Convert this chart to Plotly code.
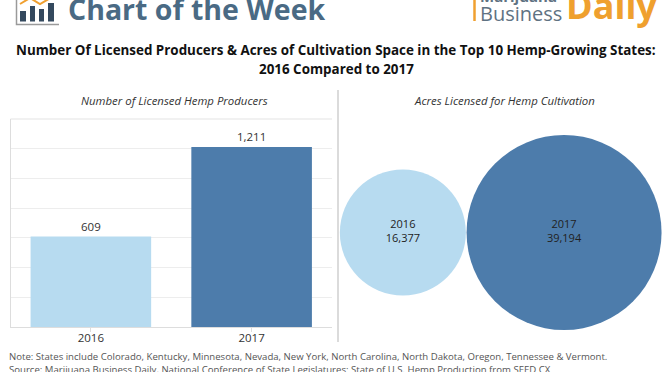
import plotly.graph_objects as go

years = ["2016", "2017"]
producers = [609, 1211]
acres = [16377, 39194]
bar_colors = ["#B7DBF0", "#4D7CAB"]
title_1 = "<b>Number Of Licensed Producers &amp; Acres of Cultivation Space in the Top 10 Hemp-Growing States:</b>"
title_2 = "<b>2016 Compared to 2017</b>"
note = "Note: States include Colorado, Kentucky, Minnesota, Nevada, New York, North Carolina, North Dakota, Oregon, Tennessee &amp; Vermont."
source = "Source: Marijuana Business Daily, National Conference of State Legislatures; State of U.S. Hemp Production from SEED CX"

W, H = 672, 372
px = lambda v: v / W
py = lambda v: 1 - v / H
FONT = "Open Sans"

fig = go.Figure()
fig.add_trace(go.Bar(
    x=years, y=producers, marker=dict(color=bar_colors, line_width=0), width=0.75,
    text=[f"{v:,}" for v in producers], textposition="outside", cliponaxis=False,
    textfont=dict(size=11.5, color="#333333", family=FONT), xaxis="x", yaxis="y"))

max_d = 195
fig.add_trace(go.Scatter(
    x=years, y=[0, 0], mode="markers+text", cliponaxis=False,
    marker=dict(size=acres, sizemode="area", sizeref=2 * max(acres) / max_d**2, color=bar_colors, line_width=0, opacity=1),
    text=[f"{y}<br>{a:,}" for y, a in zip(years, acres)], textposition="middle center",
    textfont=dict(size=11, color="#222222", family=FONT), xaxis="x2", yaxis="y2"))

fig.update_layout(
    width=W, height=H, autosize=False, margin=dict(l=0, r=0, t=0, b=0),
    paper_bgcolor="white", plot_bgcolor="white", showlegend=False,
    font=dict(family=FONT),
    xaxis=dict(domain=[px(10.5), px(332)], type="category", showgrid=False, showline=True, linecolor="#DDDDDD",
               ticks="outside", ticklen=4, tickcolor="#DDDDDD", tickfont=dict(size=11.5, color="#333333", family=FONT), anchor="y",
               ticklabelstandoff=-4, range=[-0.5, 1.5], fixedrange=True),
    yaxis=dict(domain=[py(327), py(119)], range=[0, 1400], dtick=200, showticklabels=False, ticks="",
               gridcolor="#EDEDED", gridwidth=1, showline=True, linecolor="#DDDDDD", zeroline=False, anchor="x"),
    xaxis2=dict(domain=[px(340), px(664)], type="category", range=[-0.39, 1.62], visible=False, anchor="y2"),
    yaxis2=dict(domain=[py(330), py(135)], range=[-1, 1], visible=False, anchor="x2"),
    shapes=[
        dict(type="line", xref="paper", yref="paper", x0=px(10.5), x1=px(332), y0=py(119), y1=py(119), line=dict(color="#E3E3E3", width=1)),
        dict(type="line", xref="paper", yref="paper", x0=px(338), x1=px(338), y0=py(90), y1=py(342), line=dict(color="#CFCFCF", width=1.5)),
        # logo icon
        dict(type="path", xref="paper", yref="paper", path=f"M {px(16.5)} {py(0)} L {px(16.5)} {py(24.5)} L {px(59)} {py(24.5)}", line=dict(color="#9A9A9A", width=1.5)),
        dict(type="rect", xref="paper", yref="paper", x0=px(20), x1=px(26), y0=py(21.5), y1=py(11), fillcolor="#34495E", line_width=0),
        dict(type="rect", xref="paper", yref="paper", x0=px(30), x1=px(35), y0=py(21.5), y1=py(6), fillcolor="#34495E", line_width=0),
        dict(type="rect", xref="paper", yref="paper", x0=px(39), x1=px(44), y0=py(21.5), y1=py(9), fillcolor="#34495E", line_width=0),
        dict(type="rect", xref="paper", yref="paper", x0=px(48), x1=px(54), y0=py(21.5), y1=py(3), fillcolor="#34495E", line_width=0),
        dict(type="path", xref="paper", yref="paper", path=f"M {px(20)} {py(4)} L {px(30)} {py(-2)} L {px(40)} {py(4)} L {px(54)} {py(-4)}", line=dict(color="#F0A030", width=2)),
        # publisher logo bar
        dict(type="line", xref="paper", yref="paper", x0=px(474.5), x1=px(474.5), y0=py(0), y1=py(21), line=dict(color="#F0A030", width=2.5)),
    ],
    annotations=[
        dict(text="<b>Chart of the Week</b>", xref="paper", yref="paper", x=px(66), y=py(30), xanchor="left", yanchor="bottom", showarrow=False,
             font=dict(size=28.5, color="#4A6A84", family="Open Sans"), ),
        dict(text="<b>Marijuana</b>", xref="paper", yref="paper", x=px(478), y=py(8), xanchor="left", yanchor="bottom", showarrow=False,
             font=dict(size=15, color="#5F7282", family="Open Sans")),
        dict(text="Business", xref="paper", yref="paper", x=px(478), y=py(29), xanchor="left", yanchor="bottom", showarrow=False,
             font=dict(size=20, color="#5F7282", family="Open Sans")),
        dict(text="<b>Daily</b>", xref="paper", yref="paper", x=px(564), y=py(32), xanchor="left", yanchor="bottom", showarrow=False,
             font=dict(size=36, color="#EFA02E", family="Open Sans")),
        dict(text=title_1, xref="paper", yref="paper", x=px(336), y=py(49.5), xanchor="center", yanchor="middle", showarrow=False, align="center",
             font=dict(size=13.4, color="#111111", family=FONT)),
        dict(text=title_2, xref="paper", yref="paper", x=px(336), y=py(69), xanchor="center", yanchor="middle", showarrow=False, align="center",
             font=dict(size=13.4, color="#111111", family=FONT)),
        dict(text="<i>Number of Licensed Hemp Producers</i>", xref="paper", yref="paper", x=px(174.5), y=py(100), xanchor="center", yanchor="middle", showarrow=False,
             font=dict(size=11.4, color="#333333", family=FONT)),
        dict(text="<i>Acres Licensed for Hemp Cultivation</i>", xref="paper", yref="paper", x=px(504), y=py(100), xanchor="center", yanchor="middle", showarrow=False,
             font=dict(size=11.4, color="#333333", family=FONT)),
        dict(text=note, xref="paper", yref="paper", x=px(7), y=py(356), xanchor="left", yanchor="middle", showarrow=False,
             font=dict(size=9.6, color="#555555", family=FONT)),
        dict(text=source, xref="paper", yref="paper", x=px(7), y=py(369), xanchor="left", yanchor="middle", showarrow=False,
             font=dict(size=9.6, color="#555555", family=FONT)),
    ],
)
fig.write_html("out.html", config={"displayModeBar": False},
               post_script="document.body.style.margin='0';document.documentElement.style.overflow='hidden';")
